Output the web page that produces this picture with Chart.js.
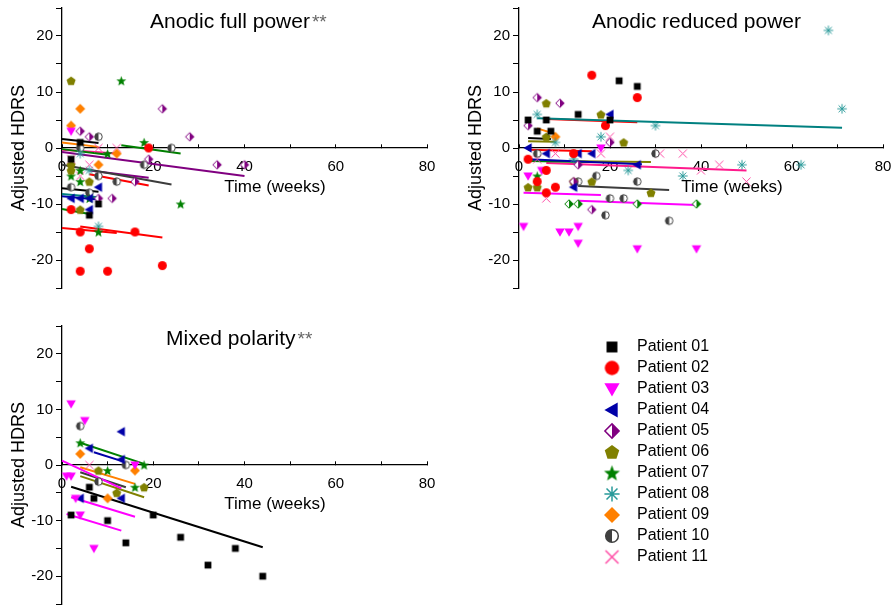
<!DOCTYPE html>
<html>
<head>
<meta charset="utf-8">
<script src="https://cdn.jsdelivr.net/npm/chart.js@4.4.0/dist/chart.umd.min.js"></script>
<style>
    html, body { margin: 0; padding: 0; background: #fff; overflow: hidden; width: 892px; height: 606px; }
    canvas { position: absolute; }
</style>
</head>
<body>
<canvas id="fullChart" style="left:0;top:0;width:446px;height:300px" width="446" height="300"></canvas>
<canvas id="reducedChart" style="left:446px;top:0;width:446px;height:300px" width="446" height="300"></canvas>
<canvas id="mixedChart" style="left:0;top:300px;width:446px;height:310px" width="446" height="310"></canvas>
<canvas id="legendChart" style="left:590px;top:334px;width:300px;height:250px" width="300" height="250"></canvas>
<script>
const patients = ['Patient 01', 'Patient 02', 'Patient 03', 'Patient 04', 'Patient 05', 'Patient 06',
    'Patient 07', 'Patient 08', 'Patient 09', 'Patient 10', 'Patient 11'];
const markerColors = ['#000000', '#ff0000', '#ff00ff', '#0000a8', '#800080', '#808000',
    '#008000', '#2a9a9a', '#ff8000', '#404040', '#ff4aa5'];
const lineColors = ['#000000', '#ff0000', '#ff00ff', '#0000a8', '#800080', '#808000',
    '#008000', '#008080', '#ff8000', '#3c3c3c', '#ff1a8c'];
const markerKinds = ['square', 'circle', 'triDown', 'triLeft', 'halfDiamond', 'pentagon',
    'star', 'asterisk', 'diamond', 'halfCircle', 'cross'];

const xTickLabels = [0, 20, 40, 60, 80];
const yTickLabels = [-20, -10, 0, 10, 20];

// [patient, week, adjusted HDRS]
const fullPoints = [
    [1, 4, 1], [1, 2, -2], [1, 8, -10], [1, 6, -12],
    [2, 19, 0], [2, 2, -11], [2, 4, -15], [2, 16, -15], [2, 6, -18], [2, 4, -22], [2, 10, -22], [2, 22, -21],
    [3, 2, 3],
    [4, 8, -7], [4, 2, -9], [4, 4, -9], [4, 6, -9], [4, 6, -11],
    [5, 4, 3], [5, 6, 2], [5, 22, 7], [5, 28, 2], [5, 19, -2], [5, 8, -9], [5, 11, -9], [5, 16, -6], [5, 34, -3], [5, 40, -3],
    [6, 2, 12], [6, 2, -3], [6, 2, -4], [6, 6, -6], [6, 4, -11],
    [7, 13, 12], [7, 18, 1], [7, 10, -1], [7, 2, -5], [7, 4, -4], [7, 4, -6], [7, 6, -9], [7, 8, -15], [7, 26, -10],
    [8, 4, -1], [8, 6, -4], [8, 8, -14],
    [9, 2, 4], [9, 4, 7], [9, 8, -3], [9, 12, -1],
    [10, 8, 2], [10, 4, 0], [10, 24, 0], [10, 18, -3], [10, 8, -5], [10, 12, -6], [10, 2, -7], [10, 6, -8],
    [11, 8, 0], [11, 12, 0], [11, 2, -2], [11, 6, -3], [11, 4, -5]
];
// [patient, week start, HDRS start, week end, HDRS end]
const fullFits = [
    [1, 0, 1.6, 8, 0.9], [9, 0, 1, 8, 0.2], [7, 13, 0.5, 26, -1], [7, 0, -0.2, 10, -1.2],
    [11, 0, -0.3, 12, -1], [5, 0, -0.7, 40, -5], [10, 0, -3, 24, -6.5], [5, 6, -4, 19, -5.3],
    [2, 6, -4.7, 19, -6.7], [1, 0, -7.2, 8, -7.8], [8, 0, -8.2, 8, -8.8], [4, 0, -8.6, 8, -9.2],
    [7, 0, -10.9, 6, -11.8], [2, 0, -14.3, 12, -15.2], [2, 4, -14, 22, -16]
];

const reducedPoints = [
    [1, 22, 12], [1, 26, 11], [1, 13, 6], [1, 2, 5], [1, 6, 5], [1, 20, 5], [1, 4, 3], [1, 7, 3],
    [2, 16, 13], [2, 26, 9], [2, 19, 4], [2, 12, -1], [2, 2, -2], [2, 6, -4], [2, 4, -6], [2, 8, -7], [2, 6, -8],
    [3, 18, 0], [3, 2, -5], [3, 5, -4], [3, 1, -14], [3, 9, -15], [3, 11, -15], [3, 13, -14], [3, 13, -17], [3, 26, -18], [3, 39, -18],
    [4, 20, 6], [4, 2, 0], [4, 6, -1], [4, 13, -1], [4, 16, -1], [4, 12, -7], [4, 26, -3],
    [5, 4, 9], [5, 9, 8], [5, 2, 4], [5, 20, 1], [5, 13, -3], [5, 12, -6], [5, 16, -11],
    [6, 6, 8], [6, 18, 6], [6, 6, 2], [6, 23, 1], [6, 2, -7], [6, 4, -7], [6, 16, -6], [6, 12, -6], [6, 29, -8],
    [7, 4, -5],
    [8, 4, 6], [8, 30, 4], [8, 8, 1], [8, 18, 2], [8, 12, -2], [8, 24, -4], [8, 36, -5], [8, 49, -3], [8, 62, -3], [8, 68, 21], [8, 71, 7],
    [9, 8, 2],
    [10, 4, -1], [10, 30, -1], [10, 13, -6], [10, 17, -5], [10, 26, -6], [10, 20, -9], [10, 23, -9], [10, 19, -12], [10, 33, -13],
    [11, 20, 2], [11, 8, -1], [11, 18, -1], [11, 4, -2], [11, 31, -1], [11, 36, -1], [11, 44, -3], [11, 40, -4], [11, 50, -6], [11, 6, -9]
];
// green half-diamond series shown in this panel only (not in the legend)
const reducedExtraWeeks = [11, 13, 26, 39];
const reducedExtraHdrs = [-10, -10, -10, -10];
const reducedFits = [
    [8, 4, 5.3, 71, 3.6], [2, 6, 5.2, 26, 4.6], [1, 2, 1.8, 7, 1.6], [6, 2, 1.2, 8, 1.1],
    [9, 4, 3.5, 8, 2.5], [2, 2, -0.3, 16, -0.6], [4, 2, -2, 27, -2.9], [7, 2, -2.3, 16, -2.5],
    [6, 7, -2.3, 29, -2.5], [11, 6, -2.7, 50, -4], [10, 13, -6.8, 33, -7.5], [3, 1, -8, 18, -8.4],
    [3, 13, -9.4, 39, -10.2]
];

const mixedPoints = [
    [1, 2, -9], [1, 6, -4], [1, 7, -6], [1, 10, -10], [1, 14, -14], [1, 20, -9], [1, 26, -13], [1, 32, -18], [1, 38, -15], [1, 44, -20],
    [3, 2, 11], [3, 5, 8], [3, 16, 0], [3, 1, -2], [3, 2, -2], [3, 3, -6], [3, 4, -9], [3, 7, -15],
    [4, 13, 6], [4, 6, 3], [4, 13, 1], [4, 4, -6], [4, 13, -6],
    [6, 8, -1], [6, 18, -4], [6, 12, -5],
    [7, 4, 4], [7, 18, 0], [7, 10, -1], [7, 16, -4],
    [9, 4, 2], [9, 16, -1], [9, 10, -6],
    [10, 4, 7], [10, 14, 0], [10, 8, -3],
    [11, 6, 0]
];
const mixedFits = [
    [1, 2, -3.9, 44, -14.8], [7, 4, 4, 18, 0.2], [4, 7, 2.3, 13.5, 0.6], [3, 0, 0.8, 13, -4.2],
    [9, 4, -0.4, 16, -3.4], [10, 4, -1.3, 14, -4], [6, 4, -2, 18, -5.8], [3, 2, -5.8, 16, -9.3],
    [3, 1, -8.8, 13, -11.8]
];

Chart.defaults.font.family = '"Liberation Sans", Arial, sans-serif';
Chart.defaults.color = '#000';

const markerSize = {
    square: 8, circle: 9, triDown: 9.5, triLeft: 9.5, halfDiamond: 9.5, pentagon: 9.5,
    star: 10.5, asterisk: 9.5, diamond: 10, halfCircle: 8.5, cross: 9
};

function makeMarker(kind, color, s) {
    const c = document.createElement('canvas');
    const n = Math.ceil(s) + 4;
    c.width = n;
    c.height = n;
    const g = c.getContext('2d');
    const m = n / 2;
    const r = s / 2;
    g.fillStyle = color;
    g.strokeStyle = color;
    g.lineWidth = s > 11 ? 1.5 : 1;
    const poly = pts => {
        g.beginPath();
        pts.forEach(([px, py], i) => i ? g.lineTo(m + px, m + py) : g.moveTo(m + px, m + py));
        g.closePath();
    };
    if (kind === 'square') {
        const h = r * 0.85;
        g.fillRect(m - h, m - h, 2 * h, 2 * h);
    } else if (kind === 'circle') {
        g.beginPath();
        g.arc(m, m, r, 0, 2 * Math.PI);
        g.fill();
    } else if (kind === 'triDown') {
        poly([[-r, -r * 0.75], [r, -r * 0.75], [0, r]]);
        g.fill();
    } else if (kind === 'triLeft') {
        poly([[-r, 0], [r * 0.75, -r], [r * 0.75, r]]);
        g.fill();
    } else if (kind === 'halfDiamond') {
        const d = r - 0.5;
        poly([[0, -d], [d, 0], [0, d], [-d, 0]]);
        g.fillStyle = '#fff';
        g.fill();
        poly([[0, -d], [d, 0], [0, d]]);
        g.fillStyle = color;
        g.fill();
        poly([[0, -d], [d, 0], [0, d], [-d, 0]]);
        g.stroke();
    } else if (kind === 'pentagon') {
        const pts = [];
        for (let k = 0; k < 5; k++) {
            const a = -Math.PI / 2 + k * 2 * Math.PI / 5;
            pts.push([r * Math.cos(a), r * Math.sin(a) + r * 0.08]);
        }
        poly(pts);
        g.fill();
    } else if (kind === 'star') {
        const pts = [];
        for (let k = 0; k < 10; k++) {
            const a = -Math.PI / 2 + k * Math.PI / 5;
            const rr = k % 2 ? r * 0.42 : r;
            pts.push([rr * Math.cos(a), rr * Math.sin(a) + r * 0.08]);
        }
        poly(pts);
        g.fill();
    } else if (kind === 'asterisk') {
        const d = r * 0.72;
        g.beginPath();
        g.moveTo(m - r, m); g.lineTo(m + r, m);
        g.moveTo(m, m - r); g.lineTo(m, m + r);
        g.moveTo(m - d, m - d); g.lineTo(m + d, m + d);
        g.moveTo(m - d, m + d); g.lineTo(m + d, m - d);
        g.stroke();
    } else if (kind === 'diamond') {
        poly([[0, -r], [r, 0], [0, r], [-r, 0]]);
        g.fill();
    } else if (kind === 'halfCircle') {
        const d = r - 0.5;
        g.beginPath();
        g.arc(m, m, d, 0, 2 * Math.PI);
        g.fillStyle = '#fff';
        g.fill();
        g.beginPath();
        g.arc(m, m, d, Math.PI / 2, Math.PI * 1.5);
        g.closePath();
        g.fillStyle = color;
        g.fill();
        g.beginPath();
        g.arc(m, m, d, 0, 2 * Math.PI);
        g.stroke();
    } else if (kind === 'cross') {
        const d = r * 0.9;
        g.beginPath();
        g.moveTo(m - d, m - d); g.lineTo(m + d, m + d);
        g.moveTo(m - d, m + d); g.lineTo(m + d, m - d);
        g.stroke();
    }
    return c;
}

const smallMarkers = markerKinds.map((k, i) => makeMarker(k, markerColors[i], markerSize[k]));
const legendMarkers = markerKinds.map((k, i) => makeMarker(k, markerColors[i], markerSize[k] * 1.6));
const greenHalfDiamond = makeMarker('halfDiamond', '#008000', 9.5);

const panelText = {
    id: 'panelText',
    afterDraw(chart, args, opts) {
        const { ctx, chartArea, scales } = chart;
        const y0 = scales.y.getPixelForValue(0);
        const family = '"Liberation Sans", Arial, sans-serif';
        ctx.save();
        ctx.textBaseline = 'middle';
        ctx.textAlign = 'left';
        ctx.fillStyle = '#000';
        ctx.font = '21px ' + family;
        const tx = chartArea.left + opts.titleDx;
        const ty = chartArea.top + opts.titleDy;
        ctx.fillText(opts.title, tx, ty);
        if (opts.stars) {
            const w = ctx.measureText(opts.title).width;
            ctx.font = '19px ' + family;
            ctx.fillStyle = '#666';
            ctx.fillText('**', tx + w + 2, ty + 1);
        }
        ctx.fillStyle = '#000';
        ctx.font = '17px ' + family;
        ctx.textAlign = 'center';
        ctx.fillText('Time (weeks)', chartArea.left + 213, y0 + 39);
        ctx.restore();
    }
};

function buildPanel(id, points, fits, extra, text, padding) {
    const datasets = [];

    patients.forEach((name, i) => {
        const data = points
            .filter(p => p[0] === i + 1)
            .map(p => ({ x: p[1], y: p[2] }));
        if (!data.length) {
            return;
        }
        datasets.push({
            label: name,
            data,
            pointStyle: smallMarkers[i],
            pointRadius: 5,
            clip: false,
        });
    });

    if (extra) {
        datasets.push({
            label: 'extra',
            data: extra.weeks.map((w, i) => ({ x: w, y: extra.hdrs[i] })),
            pointStyle: greenHalfDiamond,
            pointRadius: 5,
            clip: false,
        });
    }

    fits.forEach(f => {
        datasets.push({
            label: patients[f[0] - 1] + ' fit',
            data: [{ x: f[1], y: f[2] }, { x: f[3], y: f[4] }],
            showLine: true,
            borderColor: lineColors[f[0] - 1],
            borderWidth: 2,
            pointRadius: 0,
            pointHoverRadius: 0,
            clip: false,
        });
    });

    return new Chart(document.getElementById(id), {
        type: 'scatter',
        data: { datasets },
        plugins: [panelText],
        options: {
            responsive: false,
            animation: false,
            events: [],
            layout: { padding },
            plugins: {
                legend: { display: false },
                tooltip: { enabled: false },
                panelText: text,
            },
            scales: {
                x: {
                    type: 'linear',
                    position: { y: 0 },
                    min: 0,
                    max: 80,
                    afterFit(s) {
                        s.paddingLeft = 0;
                        s.paddingRight = 0;
                        s.paddingTop = 0;
                        s.paddingBottom = 0;
                    },
                    border: { display: true, color: '#000', width: 1.3 },
                    grid: {
                        drawOnChartArea: false,
                        drawTicks: true,
                        tickLength: -4,
                        color: '#000',
                        lineWidth: 1,
                    },
                    ticks: {
                        stepSize: 10,
                        autoSkip: false,
                        maxRotation: 0,
                        padding: 14,
                        font: { size: 15 },
                        color: '#000',
                        callback: v => xTickLabels.includes(v) ? String(v) : '',
                    },
                },
                y: {
                    type: 'linear',
                    position: 'left',
                    min: -25,
                    max: 25,
                    afterFit(s) {
                        s.width = 62;
                        s.paddingTop = 0;
                        s.paddingBottom = 0;
                    },
                    border: { display: true, color: '#000', width: 1.3 },
                    grid: {
                        drawOnChartArea: false,
                        drawTicks: true,
                        tickLength: 6,
                        color: '#000',
                        lineWidth: 1,
                    },
                    ticks: {
                        stepSize: 5,
                        autoSkip: false,
                        padding: 3,
                        font: { size: 15 },
                        color: '#000',
                        callback: v => yTickLabels.includes(v) ? String(v) : '',
                    },
                    title: {
                        display: true,
                        text: 'Adjusted HDRS',
                        font: { size: 18 },
                        color: '#000',
                        padding: { top: 8, bottom: 0 },
                    },
                },
            },
        },
    });
}

buildPanel('fullChart', fullPoints, fullFits, null,
    { title: 'Anodic full power', stars: true, titleDx: 88, titleDy: 14 },
    { left: 0, right: 19, top: 8, bottom: 12 });

buildPanel('reducedChart', reducedPoints, reducedFits,
    { weeks: reducedExtraWeeks, hdrs: reducedExtraHdrs },
    { title: 'Anodic reduced power', stars: false, titleDx: 73, titleDy: 14 },
    { left: 11, right: 9, top: 8, bottom: 12 });

buildPanel('mixedChart', mixedPoints, mixedFits, null,
    { title: 'Mixed polarity', stars: true, titleDx: 104, titleDy: 13 },
    { left: 0, right: 19, top: 26, bottom: 4 });

new Chart(document.getElementById('legendChart'), {
    type: 'scatter',
    data: {
        datasets: patients.map((name, i) => ({
            label: name,
            data: [],
            pointStyle: legendMarkers[i],
            pointRadius: 5,
        })),
    },
    options: {
        responsive: false,
        animation: false,
        events: [],
        layout: { padding: 0 },
        plugins: {
            tooltip: { enabled: false },
            legend: {
                position: 'left',
                align: 'start',
                labels: {
                    usePointStyle: true,
                    pointStyleWidth: 34,
                    padding: 5,
                    color: '#000',
                    font: { size: 16 },
                },
            },
        },
        scales: {
            x: { display: false },
            y: { display: false },
        },
    },
});
</script>
</body>
</html>
